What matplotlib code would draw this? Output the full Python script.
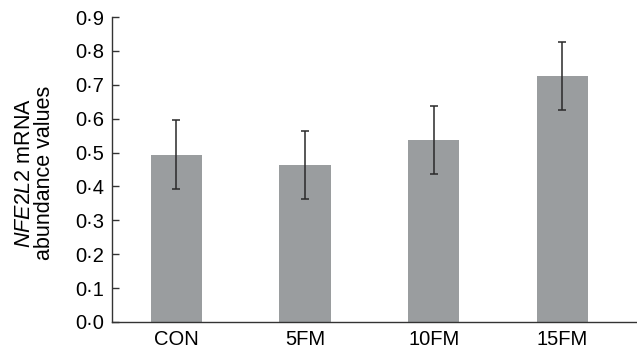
import matplotlib
matplotlib.use('Agg')
import matplotlib.pyplot as plt
import numpy as np

# Data
groups = ['CON', '5FM', '10FM', '15FM']
means = [0.494, 0.464, 0.536, 0.726]
errors = [0.101, 0.100, 0.100, 0.100]
yticks = [0.0, 0.1, 0.2, 0.3, 0.4, 0.5, 0.6, 0.7, 0.8, 0.9]
ytick_labels = [('%.1f' % v).replace('.', '\u00b7') for v in yticks]

plt.rcParams['font.family'] = ['Liberation Sans', 'DejaVu Sans']
plt.rcParams['mathtext.fontset'] = 'custom'
plt.rcParams['mathtext.rm'] = 'Liberation Sans'
plt.rcParams['mathtext.it'] = 'Liberation Sans:italic'

fig = plt.figure(figsize=(6.37, 3.55), dpi=100)
ax = fig.add_axes([0.176, 0.093, 0.824, 0.859])

x = np.arange(len(groups))
ax.bar(x, means, width=0.40, color='#9a9d9f', zorder=1)
ax.errorbar(x, means, yerr=errors, fmt='none', ecolor='#2a2a2a',
            elinewidth=1.1, capsize=3, capthick=1.1, zorder=2)

ax.set_xlim(-0.5, 3.58)
ax.set_ylim(0, 0.9)
ax.set_xticks(x)
ax.set_xticklabels(groups, fontsize=14.5)
ax.set_yticks(yticks)
ax.set_yticklabels(ytick_labels, fontsize=14.5)
ax.tick_params(axis='x', length=0, pad=6)
ax.tick_params(axis='y', length=5, width=1, direction='in', color='#333333', pad=6)

for side in ['top', 'right']:
    ax.spines[side].set_visible(False)
for side in ['left', 'bottom']:
    ax.spines[side].set_linewidth(1)
    ax.spines[side].set_color('#333333')

ax.set_ylabel('$\\it{NFE2L2}$ mRNA\nabundance values', fontsize=15.5,
              linespacing=0.95)
ax.yaxis.set_label_coords(-0.108, 0.49)

fig.savefig('out.png', dpi=100)
